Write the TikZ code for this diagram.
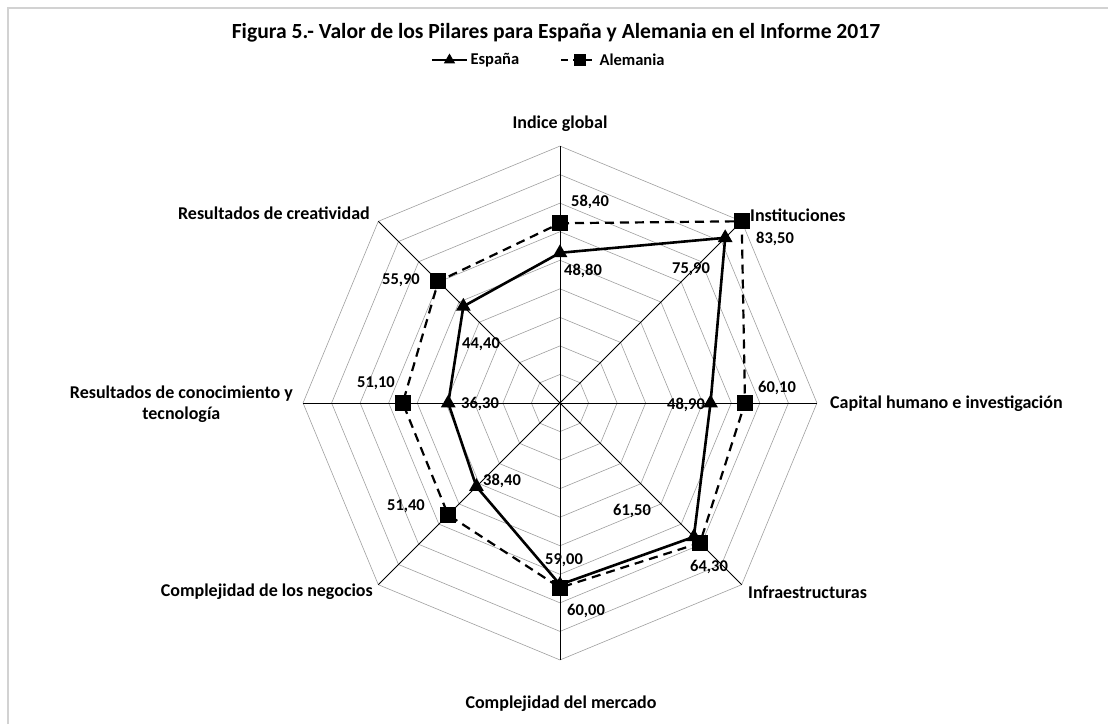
\documentclass[tikz,border=0pt]{standalone}
\usepackage{fontspec}
\setmainfont{Carlito}
\usetikzlibrary{positioning,calc,shapes.geometric}

\begin{document}
\begin{tikzpicture}[x=1pt,y=1pt,
  font=\fontsize{16.5}{19}\selectfont\bfseries,
  ring/.style={draw=gray!75,line width=0.6pt},
  spoke/.style={draw=black,line width=0.8pt},
  espana/.style={line width=2.6pt,line join=round},
  alemania/.style={line width=2.2pt,dash pattern=on 9pt off 6pt},
  tri/.style={regular polygon,regular polygon sides=3,fill=black,minimum size=17pt,inner sep=0pt},
  sq/.style={rectangle,fill=black,minimum size=16pt,inner sep=0pt},
  axlbl/.style={align=center,inner sep=0pt,font=\fontsize{18}{21}\selectfont\bfseries}]
\useasboundingbox (-560,-321) rectangle (548,403);
\draw[gray!35,line width=1.2pt] (-552,-321) -- (-552,395) -- (548,395);

\node (title) at (-4,370) {\fontsize{21.6}{25}\selectfont Figura 5.- Valor de los Pilares para España y Alemania en el Informe 2017};

\coordinate (O) at (0,0);
\foreach \i in {1,...,9}
  \draw[ring] (90:{\i*28.55}) \foreach \a in {45,0,-45,-90,-135,180,135} {-- (\a:{\i*28.55})} -- cycle;
\foreach \k in {1,...,8} {
  \coordinate (ax\k) at ({135-45*\k}:257);
  \draw[spoke] (O) -- (ax\k);
}

\foreach \v [count=\k] in {48.8,75.9,48.9,61.5,59.0,38.4,36.3,44.4}
  \coordinate (es\k) at ({135-45*\k}:{\v*3.078});
\foreach \v [count=\k] in {58.4,83.5,60.1,64.3,60.0,51.4,51.1,55.9}
  \coordinate (de\k) at ({135-45*\k}:{\v*3.078});

\draw[alemania] (de1) \foreach \k in {2,...,8} {-- (de\k)} -- cycle;
\draw[espana] (es1) \foreach \k in {2,...,8} {-- (es\k)} -- cycle;
\foreach \k in {1,...,8} {
  \node[sq] (mde\k) at (de\k) {};
  \node[tri] (mes\k) at (es\k) {};
}

\node[axlbl] (c1) at (0,279) {Indice global};
\node[axlbl,anchor=west] (c2) at (190,188) {Instituciones};
\node[axlbl,anchor=west] (c3) at (270,-1) {Capital humano e investigación};
\node[axlbl,anchor=west] (c4) at (188,-189) {Infraestructuras};
\node[axlbl] (c5) at (1,-301) {Complejidad del mercado};
\node[axlbl,anchor=east] (c6) at (-187,-189) {Complejidad de los negocios};
\node[axlbl,anchor=east] (c7) at (-267,-1) {Resultados de conocimiento y\\tecnología};
\node[axlbl,anchor=east] (c8) at (-190,190) {Resultados de creatividad};

\node (vde1) at (30,201) {58,40};
\node (ves1) at (23,132) {48,80};
\node (ves2) at (131,134) {75,90};
\node (vde2) at (215,164) {83,50};
\node (vde3) at (217,15) {60,10};
\node (ves3) at (126,-2) {48,90};
\node (ves4) at (72,-108) {61,50};
\node (vde4) at (149,-164) {64,30};
\node (ves5) at (4,-157) {59,00};
\node (vde5) at (26,-208) {60,00};
\node (ves6) at (-58,-78) {38,40};
\node (vde6) at (-154,-103) {51,40};
\node (ves7) at (-80,-1) {36,30};
\node (vde7) at (-184,20) {51,10};
\node (ves8) at (-79,59) {44,40};
\node (vde8) at (-159,123) {55,90};

\coordinate (lesA) at (-128,343);
\coordinate (lesB) at (-93,343);
\draw[espana] (lesA) -- (lesB);
\node[tri,minimum size=13pt] (lestri) at ($(lesA)!0.5!(lesB)$) {};
\node[right=0pt of lesB] (lesT) {España};
\coordinate (ldeA) at (1,343);
\coordinate (ldeB) at (33,343);
\draw[alemania,dash pattern=on 7pt off 5pt] (ldeA) -- (ldeB);
\node[sq,minimum size=12pt] (ldesq) at ($(ldeA)!0.6!(ldeB)$) {};
\node[right=3pt of ldeB] (ldeT) {Alemania};
\end{tikzpicture}
\end{document}
